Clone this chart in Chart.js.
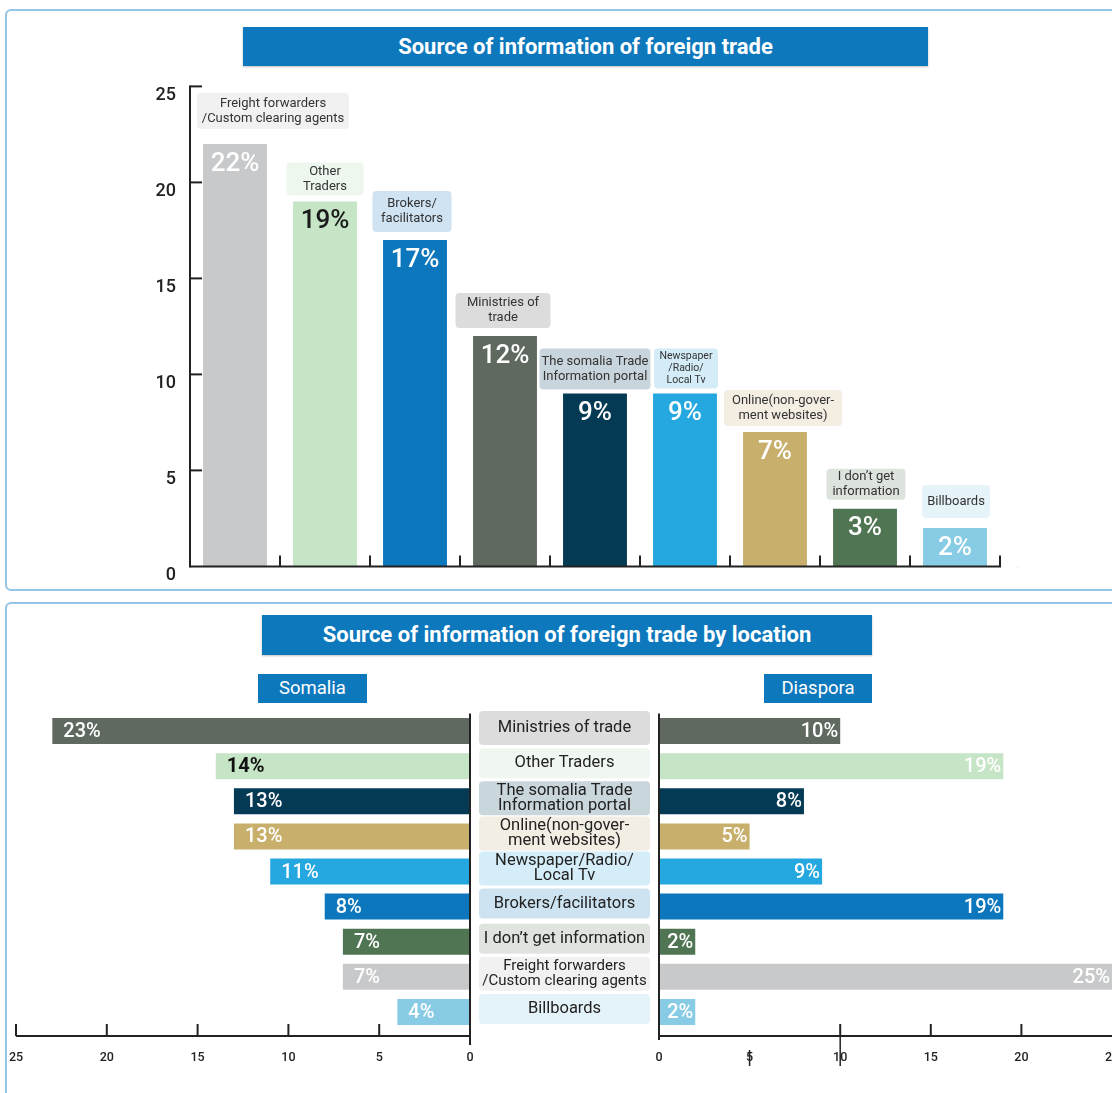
<!DOCTYPE html>
<html>
<head>
<meta charset="utf-8">
<script src="https://cdn.jsdelivr.net/npm/chart.js"></script>
<style>
  html, body { margin: 0; padding: 0; background: #fff; overflow: hidden; }
  body { width: 1112px; height: 1093px; position: relative; font-family: Roboto, sans-serif; }
  .panel { position: absolute; border: 2px solid #93c5e6; border-radius: 6px; box-sizing: border-box; }
  .title { position: absolute; background: #0e78bd; color: #fff; font-weight: bold; font-size: 22px;
           text-align: center; box-shadow: 0 1px 2px rgba(0,0,0,0.25); }
  .tag { position: absolute; background: #0e78bd; color: #fff; font-size: 18.5px; text-align: center; }
  .wrap { position: absolute; }
</style>
</head>
<body>

<div class="panel" style="left:5px; top:9px; width:1130px; height:582px"></div>
<div class="panel" style="left:5px; top:602px; width:1130px; height:520px"></div>

<div class="title" style="left:243px; top:27px; width:685px; height:39px; line-height:39px">Source of information of foreign trade</div>
<div class="title" style="left:262px; top:615px; width:610px; height:40px; line-height:40px">Source of information of foreign trade by location</div>
<div class="tag" style="left:258px; top:674px; width:109px; height:29px; line-height:29px">Somalia</div>
<div class="tag" style="left:764px; top:674px; width:108px; height:29px; line-height:29px">Diaspora</div>

<div class="wrap" style="left:120px; top:70px; width:900px; height:520px"><canvas id="topChart"></canvas></div>
<div class="wrap" style="left:0px; top:700px; width:480px; height:393px"><canvas id="somaliaChart"></canvas></div>
<div class="wrap" style="left:470px; top:700px; width:660px; height:393px"><canvas id="diasporaChart"></canvas></div>

<script type="text/javascript">
    // ---- data ----
    const topCategories = [
        ['Freight forwarders', '/Custom clearing agents'],
        ['Other', 'Traders'],
        ['Brokers/', 'facilitators'],
        ['Ministries of', 'trade'],
        ['The somalia Trade', 'Information portal'],
        ['Newspaper', '/Radio/', 'Local Tv'],
        ['Online(non-gover-', 'ment websites)'],
        ['I don\u2019t get', 'information'],
        ['Billboards']
    ];
    const topValues = [22, 19, 17, 12, 9, 9, 7, 3, 2];
    const topTicks = [0, 5, 10, 15, 20, 25];

    const locCategories = [
        ['Ministries of trade'],
        ['Other Traders'],
        ['The somalia Trade', 'Information portal'],
        ['Online(non-gover-', 'ment websites)'],
        ['Newspaper/Radio/', 'Local Tv'],
        ['Brokers/facilitators'],
        ['I don\u2019t get information'],
        ['Freight forwarders', '/Custom clearing agents'],
        ['Billboards']
    ];
    const somaliaValues = [23, 14, 13, 13, 11, 8, 7, 7, 4];
    const diasporaValues = [10, 19, 8, 5, 9, 19, 2, 25, 2];
    const locTicks = [0, 5, 10, 15, 20, 25];

    // ---- styles ----
    const topColors = ['#c8c9cb', '#c5e5c6', '#0d77bd', '#5f695f', '#053a55', '#25a7df', '#c8b06c', '#507552', '#88cbe4'];
    const topTextColors = ['#fff', '#1a1a1a', '#fff', '#fff', '#fff', '#fff', '#fff', '#fff', '#fff'];
    const topBoxColors = ['#f1f1f1', '#eef7ee', '#cfe3f3', '#dcdcdc', '#c9d5dc', '#d3ecf8', '#f3ede2', '#dde3dd', '#e6f3f9'];
    const topBoxW = [152, 77, 79, 95, 111, 64, 118, 79, 68];
    const topBoxH = [36, 33, 41, 35, 41, 40, 36, 31, 33];
    const topBoxGap = [15, 6, 8, 8, 4, 5, 6, 9, 10];
    const topBoxDx = [38, 0, -3, -2, 0, 1, 8, 1, 1];

    const locColors = ['#5f695f', '#c5e5c6', '#053a55', '#c8b06c', '#25a7df', '#0d77bd', '#507552', '#c8c9cb', '#88cbe4'];
    const locBoxColors = ['#dcdcdc', '#f0f7f0', '#c9d6dc', '#f3eee3', '#d4edf8', '#cde3f1', '#dfe4df', '#f1f1f1', '#e4f3f9'];
    const somaliaTextColors = ['#fff', '#111', '#fff', '#fff', '#fff', '#fff', '#fff', '#fff', '#fff'];

    const FONT = 'Roboto, "Open Sans", sans-serif';

    function drawLine(ctx, x1, y1, x2, y2) {
        ctx.beginPath();
        ctx.moveTo(x1, y1);
        ctx.lineTo(x2, y2);
        ctx.stroke();
    }

    // ---- top chart ----
    const topDecor = {
        id: 'topDecor',
        afterDatasetsDraw(chart) {
            const ctx = chart.ctx, a = chart.chartArea;
            const x = chart.scales.x, y = chart.scales.y;
            ctx.save();
            ctx.strokeStyle = '#222';
            ctx.lineWidth = 2;
            drawLine(ctx, a.left, a.top - 1, a.left, a.bottom + 1);
            y.ticks.forEach(t => {
                if (t.value === 0) return;
                const py = y.getPixelForValue(t.value);
                drawLine(ctx, a.left, py, a.left + 12, py);
            });
            drawLine(ctx, a.left, a.bottom, a.right + 1, a.bottom);
            const half = (x.getPixelForValue(1) - x.getPixelForValue(0)) / 2;
            for (let i = 0; i <= topValues.length; i++) {
                const px = x.getPixelForValue(0) - half + i * half * 2;
                drawLine(ctx, px, a.bottom, px, a.bottom - 11);
            }
            ctx.strokeStyle = '#eeeeee';
            ctx.lineWidth = 1;
            drawLine(ctx, a.right + 15, a.bottom + 0.5, a.right + 78, a.bottom + 0.5);

            const meta = chart.getDatasetMeta(0);
            ctx.textAlign = 'center';
            ctx.textBaseline = 'middle';
            meta.data.forEach((bar, i) => {
                ctx.fillStyle = topTextColors[i];
                ctx.font = '500 26px ' + FONT;
                ctx.fillText(topValues[i] + '%', bar.x, bar.y + 20);

                const w = topBoxW[i], h = topBoxH[i];
                const cx = bar.x + topBoxDx[i];
                const bottom = bar.y - topBoxGap[i];
                const top = bottom - h;
                ctx.fillStyle = topBoxColors[i];
                ctx.beginPath();
                ctx.roundRect(cx - w / 2, top, w, h, 4);
                ctx.fill();
                const lines = topCategories[i];
                const small = lines.length > 2;
                const lh = small ? 12 : 15;
                ctx.font = (small ? '10.5px ' : '13px ') + FONT;
                ctx.fillStyle = '#333';
                const y0 = top + h / 2 - (lines.length - 1) * lh / 2;
                lines.forEach((ln, k) => ctx.fillText(ln, cx, y0 + k * lh));
            });
            ctx.restore();
        }
    };

    new Chart(document.getElementById('topChart'), {
        type: 'bar',
        data: {
            labels: topCategories.map(c => c.join(' ')),
            datasets: [{
                data: topValues,
                backgroundColor: topColors,
                categoryPercentage: 1,
                barPercentage: 0.71
            }]
        },
        options: {
            responsive: true,
            maintainAspectRatio: false,
            animation: false,
            layout: { padding: { left: 0, right: 20, top: 16.4, bottom: 23.6 } },
            plugins: { legend: { display: false }, tooltip: { enabled: false } },
            scales: {
                x: { display: false },
                y: {
                    min: topTicks[0],
                    max: topTicks[topTicks.length - 1],
                    afterFit: s => { s.width = 70; s.paddingTop = 0; s.paddingBottom = 0; },
                    grid: { display: false, drawTicks: false },
                    border: { display: false },
                    ticks: {
                        stepSize: 5,
                        padding: 14,
                        labelOffset: 9,
                        color: '#222',
                        font: { family: FONT, size: 18, weight: '500' }
                    }
                }
            }
        },
        plugins: [topDecor]
    });

    // ---- bottom charts ----
    function locOptions(reverse, padding) {
        return {
            indexAxis: 'y',
            responsive: true,
            maintainAspectRatio: false,
            animation: false,
            layout: { padding: padding },
            plugins: { legend: { display: false }, tooltip: { enabled: false } },
            scales: {
                y: { display: false },
                x: {
                    min: locTicks[0],
                    max: locTicks[locTicks.length - 1],
                    reverse: reverse,
                    afterFit: s => { s.height = 35; s.paddingLeft = 0; s.paddingRight = 0; },
                    grid: { display: false, drawTicks: false },
                    border: { display: false },
                    ticks: {
                        stepSize: 5,
                        padding: 21,
                        maxRotation: 0,
                        autoSkip: false,
                        color: '#222',
                        font: { family: FONT, size: 12.5, weight: '500' }
                    }
                }
            }
        };
    }

    const somaliaDecor = {
        id: 'somaliaDecor',
        afterDatasetsDraw(chart) {
            const ctx = chart.ctx, a = chart.chartArea, x = chart.scales.x;
            const base = a.bottom + 6.5;
            ctx.save();
            ctx.strokeStyle = '#222';
            ctx.lineWidth = 2;
            drawLine(ctx, x.getPixelForValue(locTicks[locTicks.length - 1]), base, x.getPixelForValue(0), base);
            locTicks.forEach(v => {
                if (v === 0) return;
                const px = x.getPixelForValue(v);
                drawLine(ctx, px, base, px, base - 12);
            });
            drawLine(ctx, x.getPixelForValue(0), a.top, x.getPixelForValue(0), base + 9);

            const meta = chart.getDatasetMeta(0);
            ctx.textAlign = 'left';
            ctx.textBaseline = 'middle';
            meta.data.forEach((bar, i) => {
                ctx.fillStyle = somaliaTextColors[i];
                ctx.font = (i === 1 ? '700 ' : '500 ') + '20px ' + FONT;
                ctx.fillText(somaliaValues[i] + '%', bar.x + 11, bar.y + 1);
            });
            ctx.restore();
        }
    };

    const diasporaDecor = {
        id: 'diasporaDecor',
        afterDatasetsDraw(chart) {
            const ctx = chart.ctx, a = chart.chartArea;
            const x = chart.scales.x, y = chart.scales.y;
            const base = a.bottom + 6.5;
            ctx.save();
            ctx.strokeStyle = '#222';
            ctx.lineWidth = 2;
            drawLine(ctx, x.getPixelForValue(0), base, a.right + 20, base);
            [10, 15, 20].forEach(v => {
                const px = x.getPixelForValue(v);
                drawLine(ctx, px, base, px, base - 12);
            });
            ctx.lineWidth = 1.5;
            drawLine(ctx, x.getPixelForValue(10), base, x.getPixelForValue(10), base + 30);
            drawLine(ctx, x.getPixelForValue(5), base + 14, x.getPixelForValue(5), base + 30);
            ctx.lineWidth = 2;
            drawLine(ctx, x.getPixelForValue(0), a.top, x.getPixelForValue(0), base + 4);

            const meta = chart.getDatasetMeta(0);
            ctx.textBaseline = 'middle';
            meta.data.forEach((bar, i) => {
                ctx.textAlign = 'right';
                ctx.fillStyle = '#fff';
                ctx.font = '500 20px ' + FONT;
                ctx.fillText(diasporaValues[i] + '%', bar.x - 2, bar.y + 1);

                // category box in the middle column
                const lines = locCategories[i];
                const h = lines.length > 1 ? 34 : (i === 0 ? 34 : 30);
                const left = a.left - 180, w = 171;
                const cy = y.getPixelForValue(i);
                ctx.fillStyle = locBoxColors[i];
                ctx.beginPath();
                ctx.roundRect(left, cy - h / 2 - 3, w, h, 4);
                ctx.fill();
                ctx.textAlign = 'center';
                ctx.fillStyle = '#222';
                const fs = (i === 7) ? 15 : 16.5;
                ctx.font = fs + 'px ' + FONT;
                const lh = 15;
                const y0 = cy - 3 - (lines.length - 1) * lh / 2;
                lines.forEach((ln, k) => ctx.fillText(ln, left + w / 2, y0 + k * lh));
            });
            ctx.restore();
        }
    };

    new Chart(document.getElementById('somaliaChart'), {
        type: 'bar',
        data: {
            labels: locCategories.map(c => c.join(' ')),
            datasets: [{
                data: somaliaValues,
                backgroundColor: locColors,
                categoryPercentage: 1,
                barPercentage: 0.74
            }]
        },
        options: locOptions(true, { left: 16, right: 10, top: 13.5, bottom: 28.5 }),
        plugins: [somaliaDecor]
    });

    new Chart(document.getElementById('diasporaChart'), {
        type: 'bar',
        data: {
            labels: locCategories.map(c => c.join(' ')),
            datasets: [{
                data: diasporaValues,
                backgroundColor: locColors,
                categoryPercentage: 1,
                barPercentage: 0.74
            }]
        },
        options: locOptions(false, { left: 189, right: 18, top: 13.5, bottom: 28.5 }),
        plugins: [diasporaDecor]
    });
</script>
</body>
</html>
